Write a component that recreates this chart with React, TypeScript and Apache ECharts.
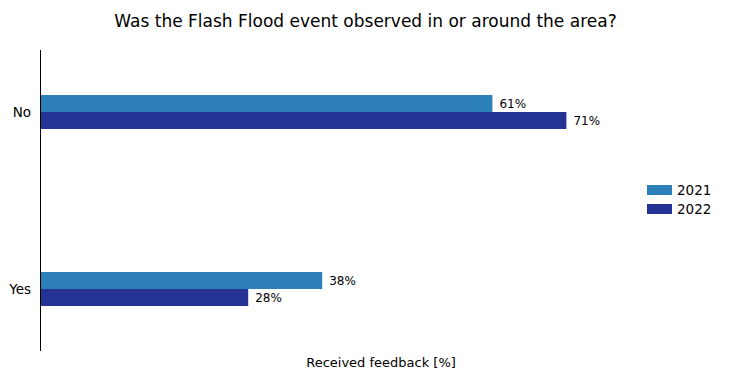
import React, { useEffect, useRef } from "react";
import * as echarts from "echarts";

const categories = ["No", "Yes"];
const seriesNames = ["2021", "2022"];
const values2021 = [61, 38];
const values2022 = [71, 28];
const colors = ["#2c7fb8", "#253494"];
const titleText = "Was the Flash Flood event observed in or around the area?";
const xLabel = "Received feedback [%]";

export default function App() {
  const ref = useRef<HTMLDivElement>(null);
  useEffect(() => {
    const chart = echarts.init(ref.current!, null, { renderer: "svg" });
    const font = "DejaVu Sans";
    chart.setOption({
      animation: false,
      textStyle: { fontFamily: font },
      title: {
        text: titleText,
        left: "center",
        top: 7,
        textStyle: { fontFamily: font, fontSize: 17, fontWeight: "normal", color: "#000" },
      },
      legend: {
        orient: "vertical",
        left: 642,
        top: 178,
        itemWidth: 25,
        itemHeight: 10,
        itemGap: 5,
        icon: "rect",
        textStyle: { fontFamily: font, fontSize: 13.5, color: "#000" },
        data: seriesNames,
      },
      grid: { left: 41, width: 592, top: 23.5, height: 354, containLabel: false },
      xAxis: {
        type: "value",
        min: 0,
        max: 80,
        show: false,
      },
      yAxis: {
        type: "category",
        inverse: true,
        data: categories,
        axisLine: { show: false },
        axisTick: { show: false },
        axisLabel: { fontFamily: font, fontSize: 13.5, color: "#000", margin: 10 },
      },
      graphic: [
        { type: "line", shape: { x1: 40.5, y1: 50, x2: 40.5, y2: 351 }, style: { stroke: "#000", lineWidth: 1 } },
        {
          type: "text",
          x: 381,
          y: 362,
          style: { text: xLabel, fontFamily: font, fontSize: 13, fill: "#000", align: "center", verticalAlign: "middle" },
        },
      ],
      series: [
        {
          name: seriesNames[0],
          type: "bar",
          data: values2021,
          barWidth: 17,
          barGap: "0%",
          itemStyle: { color: colors[0] },
          label: { show: true, position: "right", distance: 7, formatter: "{c}%", fontFamily: font, fontSize: 12, color: "#000" },
        },
        {
          name: seriesNames[1],
          type: "bar",
          data: values2022,
          barWidth: 17,
          barGap: "0%",
          itemStyle: { color: colors[1] },
          label: { show: true, position: "right", distance: 7, formatter: "{c}%", fontFamily: font, fontSize: 12, color: "#000" },
        },
      ],
    });
    return () => chart.dispose();
  }, []);
  return <div ref={ref} style={{ width: 731, height: 379, position: "absolute", left: 0, top: 0 }} />;
}
